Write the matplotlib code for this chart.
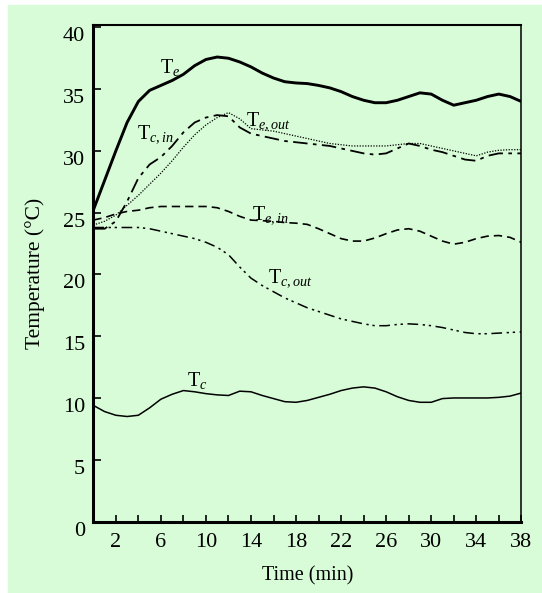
import numpy as np
import matplotlib.pyplot as plt
from matplotlib.patches import Rectangle
from matplotlib.transforms import ScaledTranslation

plt.rcParams['font.family'] = ['Liberation Serif', 'DejaVu Serif']
plt.rcParams['mathtext.fontset'] = 'custom'
plt.rcParams['mathtext.rm'] = 'Liberation Serif'
plt.rcParams['mathtext.it'] = 'Liberation Serif:italic'

# 데이터
time = np.arange(0, 39)
t_e = [25.2, 27.6, 30.0, 32.3, 34.0, 34.9, 35.3, 35.7, 36.2, 36.9,
       37.4, 37.6, 37.5, 37.2, 36.8, 36.3, 35.9, 35.6, 35.5, 35.45,
       35.3, 35.1, 34.8, 34.4, 34.1, 33.9, 33.9, 34.1, 34.4, 34.7,
       34.6, 34.1, 33.7, 33.9, 34.1, 34.4, 34.6, 34.4, 34.0]
t_c_in = [23.7, 23.7, 24.3, 25.9, 27.8, 28.9, 29.5, 30.4, 31.5, 32.3,
          32.7, 32.9, 32.8, 31.9, 31.4, 31.2, 31.0, 30.8, 30.7, 30.6,
          30.5, 30.4, 30.2, 30.0, 29.8, 29.7, 29.8, 30.2, 30.6, 30.4,
          30.1, 29.9, 29.6, 29.3, 29.2, 29.6, 29.8, 29.8, 29.8]
t_e_out = [24.0, 24.3, 24.8, 25.6, 26.4, 27.3, 28.2, 29.2, 30.3, 31.3,
           32.1, 32.7, 33.1, 32.6, 31.8, 31.7, 31.6, 31.4, 31.2, 31.0,
           30.8, 30.6, 30.5, 30.4, 30.4, 30.4, 30.4, 30.5, 30.6, 30.6,
           30.4, 30.2, 30.0, 29.8, 29.6, 29.9, 30.05, 30.1, 30.1]
t_e_in = [24.4, 24.6, 24.9, 25.1, 25.2, 25.4, 25.5, 25.5, 25.5, 25.5,
          25.5, 25.4, 25.1, 24.7, 24.4, 24.35, 24.3, 24.2, 24.15, 24.05,
          23.7, 23.3, 22.9, 22.7, 22.7, 22.95, 23.3, 23.6, 23.7, 23.5,
          23.1, 22.7, 22.45, 22.6, 22.9, 23.1, 23.15, 23.0, 22.6]
t_c_out = [23.8, 23.8, 23.8, 23.8, 23.8, 23.7, 23.5, 23.3, 23.1, 22.9,
           22.6, 22.2, 21.6, 20.6, 19.7, 19.1, 18.6, 18.1, 17.7, 17.3,
           17.0, 16.7, 16.4, 16.2, 16.0, 15.85, 15.85, 15.95, 16.0, 15.95,
           15.85, 15.7, 15.5, 15.3, 15.2, 15.2, 15.25, 15.3, 15.35]
t_c = [9.4, 8.9, 8.6, 8.5, 8.6, 9.2, 9.9, 10.3, 10.6, 10.5,
       10.35, 10.25, 10.2, 10.55, 10.5, 10.2, 9.95, 9.7, 9.65, 9.8,
       10.05, 10.3, 10.6, 10.8, 10.9, 10.8, 10.5, 10.1, 9.8, 9.65,
       9.65, 9.95, 10.0, 10.0, 10.0, 10.0, 10.05, 10.15, 10.4]

bg = '#d8fcd8'

fig = plt.figure(figsize=(5.42, 5.93), dpi=100)
fig.patches.append(Rectangle((8 / 542, 0), 1, 1 - 5 / 593, transform=fig.transFigure,
                             color=bg, zorder=-1))
ax = fig.add_axes([93.3 / 542, 1 - 521.5 / 593, 428 / 542, 496.6 / 593])
ax.set_facecolor(bg)

ax.plot(time, t_e, color='black', lw=2.1)
ax.plot(time, t_c_in, color='black', lw=1.3, linestyle=(0, (8, 3, 2, 3)))
ax.plot(time, t_e_out, color='black', lw=0.9, linestyle=(0, (1, 1.2)))
ax.plot(time, t_e_in, color='black', lw=1.2, linestyle=(0, (5, 3)))
ax.plot(time, t_c_out, color='black', lw=1.1, linestyle=(0, (7, 3, 1.5, 2.5, 1.5, 3)))
ax.plot(time, t_c, color='black', lw=1.1)

fs = 14.5
ax.text(5.9, 36.3, r'$\mathrm{T}_{\mathit{e}}$', fontsize=fs)
ax.text(3.85, 31.05, r'$\mathrm{T}_{\mathit{c,in}}$', fontsize=fs)
ax.text(13.6, 32.1, r'$\mathrm{T}_{\mathit{e,out}}$', fontsize=fs)
ax.text(14.1, 24.45, r'$\mathrm{T}_{\mathit{e,in}}$', fontsize=fs)
ax.text(15.5, 19.4, r'$\mathrm{T}_{\mathit{c,out}}$', fontsize=fs)
ax.text(8.3, 11.0, r'$\mathrm{T}_{\mathit{c}}$', fontsize=fs)

ax.set_xlim(0, 38)
ax.set_ylim(0, 40.2)
ax.set_xticks(np.arange(2, 39, 4))
ax.set_xticks(np.arange(4, 38, 4), minor=True)
ax.set_yticks(np.arange(0, 41, 5))
ax.tick_params(axis='x', which='both', direction='in', length=5, width=1.2,
               labelsize=16, pad=8)
ax.tick_params(axis='y', direction='in', length=6, width=1.2, labelsize=16, pad=6)
for lbl in ax.get_yticklabels():
    lbl.set_transform(lbl.get_transform() + ScaledTranslation(0, -0.07, fig.dpi_scale_trans))

ax.spines['left'].set_linewidth(2.2)
ax.spines['bottom'].set_linewidth(2.2)
ax.spines['top'].set_linewidth(1.5)
ax.spines['right'].set_linewidth(1.1)

ax.set_xlabel('Time (min)', fontsize=14.5)
ax.set_ylabel('Temperature (°C)', fontsize=15.5)
ax.xaxis.set_label_coords(0.5, -0.09)
ax.yaxis.set_label_coords(-0.113, 0.5)

fig.savefig('out.png', dpi=100)
